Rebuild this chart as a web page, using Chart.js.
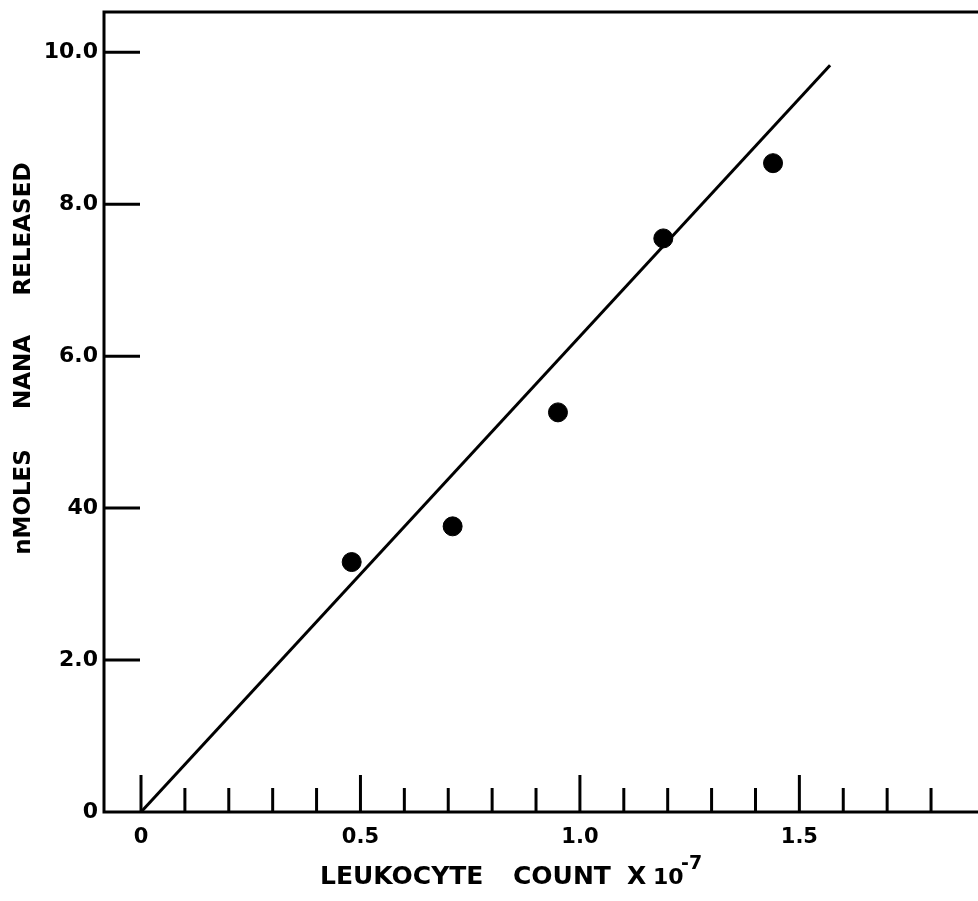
<!DOCTYPE html>
<html>
<head>
<meta charset="utf-8">
<script src="https://cdn.jsdelivr.net/npm/chart.js@4.4.0/dist/chart.umd.min.js"></script>
<style>
  html, body { margin: 0; padding: 0; background: #fff; overflow: hidden; }
  canvas { display: block; width: 978px; height: 901px; }
</style>
</head>
<body>
<canvas id="nanaChart" width="978" height="901"></canvas>
<script>
// leukocyte count (x 10^7) against nmoles of NANA released
var leukocyteCount = [0.48, 0.71, 0.95, 1.19, 1.44];
var nanaReleased = [3.29, 3.76, 5.26, 7.55, 8.54];

// end points of the fitted line
var fitCount = [0, 1.57];
var fitNana = [0, 9.83];

// axis ticks
var xMinorTicks = [0.1, 0.2, 0.3, 0.4, 0.6, 0.7, 0.8, 0.9, 1.1, 1.2, 1.3, 1.4, 1.6, 1.7, 1.8];
var xMajorTicks = [0, 0.5, 1.0, 1.5];
var xTickLabels = ["0", "0.5", "1.0", "1.5"];
var yTickValues = [0, 2, 4, 6, 8, 10];
var yTickLabels = ["0", "2.0", "40", "6.0", "8.0", "10.0"];

var FONT = "'DejaVu Sans', sans-serif";

var points = leukocyteCount.map(function (x, i) { return { x: x, y: nanaReleased[i] }; });
var fitLine = fitCount.map(function (x, i) { return { x: x, y: fitNana[i] }; });

// frame, inward ticks and titles drawn by hand on top of the chart
var axesFrame = {
  id: "axesFrame",
  afterDraw: function (chart) {
    var ctx = chart.ctx;
    var a = chart.chartArea;
    var xs = chart.scales.x;
    var ys = chart.scales.y;

    ctx.save();
    ctx.strokeStyle = "#000";
    ctx.fillStyle = "#000";
    ctx.lineWidth = 3;

    ctx.beginPath();
    ctx.moveTo(a.right, a.top);
    ctx.lineTo(a.left, a.top);
    ctx.lineTo(a.left, a.bottom);
    ctx.lineTo(a.right, a.bottom);
    ctx.stroke();

    // y ticks + labels
    ctx.font = "bold 22px " + FONT;
    ctx.textAlign = "right";
    ctx.textBaseline = "middle";
    yTickValues.forEach(function (v, i) {
      var py = ys.getPixelForValue(v);
      if (v > 0) {
        ctx.beginPath();
        ctx.moveTo(a.left, py);
        ctx.lineTo(a.left + 36, py);
        ctx.stroke();
      }
      ctx.fillText(yTickLabels[i], a.left - 6, py);
    });

    // x ticks
    xMinorTicks.forEach(function (v) {
      var px = xs.getPixelForValue(v);
      ctx.beginPath();
      ctx.moveTo(px, a.bottom);
      ctx.lineTo(px, a.bottom - 24);
      ctx.stroke();
    });
    ctx.font = "bold 21px " + FONT;
    ctx.textAlign = "center";
    ctx.textBaseline = "alphabetic";
    xMajorTicks.forEach(function (v, i) {
      var px = xs.getPixelForValue(v);
      ctx.beginPath();
      ctx.moveTo(px, a.bottom);
      ctx.lineTo(px, a.bottom - 37);
      ctx.stroke();
      ctx.fillText(xTickLabels[i], px, a.bottom + 31);
    });

    // x title
    ctx.font = "bold 25px " + FONT;
    ctx.textAlign = "left";
    ctx.fillText("LEUKOCYTE", 320, 884);
    ctx.fillText("COUNT", 513, 884);
    ctx.fillText("X", 627, 884);
    ctx.font = "bold 22px " + FONT;
    ctx.fillText("10", 653, 884);
    ctx.font = "bold 19px " + FONT;
    ctx.fillText("-7", 681, 869);

    // y title, rotated
    ctx.translate(24, 0);
    ctx.rotate(-Math.PI / 2);
    ctx.font = "bold 23px " + FONT;
    ctx.textAlign = "center";
    ctx.textBaseline = "middle";
    ctx.fillText("RELEASED", -229, 0);
    ctx.fillText("NANA", -372, 0);
    ctx.fillText("nMOLES", -502, 0);
    ctx.restore();
  }
};

new Chart(document.getElementById("nanaChart").getContext("2d"), {
  type: "scatter",
  data: {
    datasets: [
      {
        type: "line",
        data: fitLine,
        borderColor: "#000",
        borderWidth: 3,
        pointRadius: 0,
        fill: false,
        tension: 0
      },
      {
        data: points,
        backgroundColor: "#000",
        borderColor: "#000",
        pointRadius: 9.5,
        pointHoverRadius: 9.5
      }
    ]
  },
  options: {
    responsive: false,
    animation: false,
    devicePixelRatio: 1,
    layout: { autoPadding: false, padding: { left: 104, right: 0, top: 12, bottom: 89 } },
    plugins: {
      legend: { display: false },
      tooltip: { enabled: false }
    },
    scales: {
      x: { type: "linear", min: -0.0843, max: 1.907, display: false },
      y: { type: "linear", min: 0, max: 10.53, display: false }
    }
  },
  plugins: [axesFrame]
});
</script>
</body>
</html>
